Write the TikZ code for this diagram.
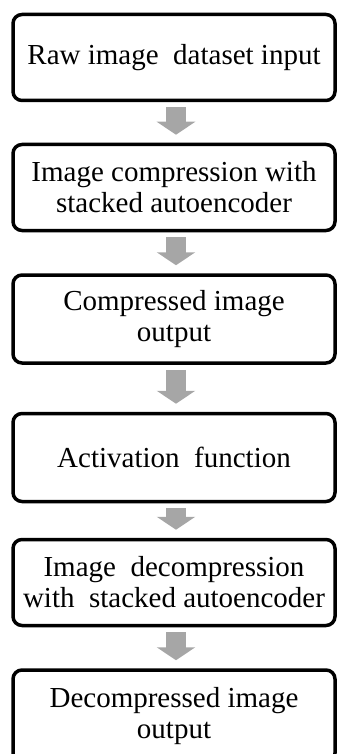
\documentclass[tikz,border=0pt]{standalone}
\usepackage{fontspec}
\setmainfont{Liberation Serif}
\usetikzlibrary{arrows.meta,calc}
\definecolor{arrowgray}{HTML}{A6A6A6}
\tikzset{
  stepbox/.style={draw=black, line width=3.5pt, rounded corners=9pt, fill=white,
    minimum width=322pt, minimum height=86pt, align=center, inner sep=0pt,
    font=\fontsize{29}{31}\selectfont},
  flowarrow/.style={draw=arrowgray, line width=20pt,
    -{Triangle[width=38pt,length=13pt]}, shorten <=5pt, shorten >=8pt}
}
\begin{document}
\begin{tikzpicture}[x=1pt,y=-1pt]
\useasboundingbox (0,0) rectangle (338,754);
\clip (0,0) rectangle (338,754);
\node[stepbox] (b1) at (174,57.5) {Raw image\ \ dataset input};
\node[stepbox] (b2) at (174,187.5) {Image compression with\\stacked autoencoder};
\node[stepbox, minimum height=88pt] (b3) at (174,319) {Compressed image\\output};
\node[stepbox, minimum height=88pt] (b4) at (174,457.5) {Activation\ \ function};
\node[stepbox] (b5) at (174,582.5) {Image\ \ decompression\\with\ \ stacked autoencoder};
\node[stepbox, minimum height=92pt] (b6) at (174,716) {Decompressed image\\output};
\draw[flowarrow] ($(b1.south)+(2,0)$) -- ($(b2.north)+(2,0)$);
\draw[flowarrow] ($(b2.south)+(2,0)$) -- ($(b3.north)+(2,0)$);
\draw[flowarrow] ($(b3.south)+(2,0)$) -- ($(b4.north)+(2,0)$);
\draw[flowarrow] ($(b4.south)+(2,0)$) -- ($(b5.north)+(2,0)$);
\draw[flowarrow] ($(b5.south)+(2,0)$) -- ($(b6.north)+(2,0)$);
\end{tikzpicture}
\end{document}
